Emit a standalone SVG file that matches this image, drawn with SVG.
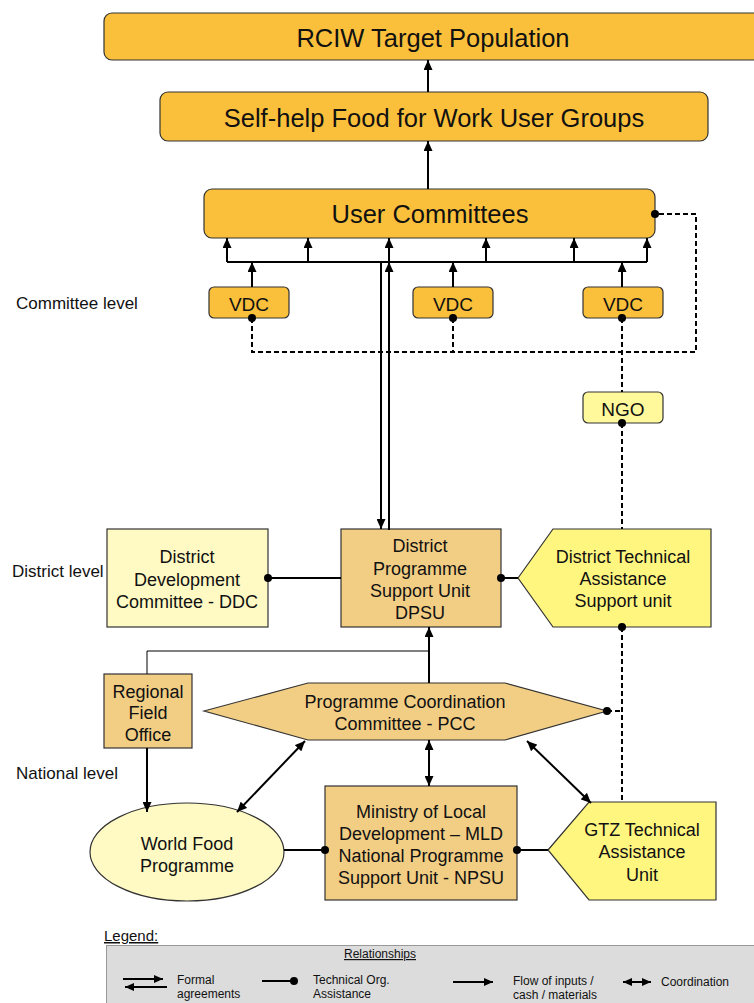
<svg xmlns="http://www.w3.org/2000/svg" width="754" height="1003" viewBox="0 0 754 1003">
<style>
text{font-family:"Liberation Sans",Arial,sans-serif;fill:#111;}
.big{font-size:25.5px;text-anchor:middle;}
.mid{font-size:18px;text-anchor:middle;}
.vdc{font-size:19px;text-anchor:middle;}
.lvl{font-size:17px;}
.lg{font-size:12px;}
.box{stroke:#333;stroke-width:1.2;}
.orange{fill:#FBC03B;}
.tan{fill:#F2CE85;}
.pale{fill:#FFFAC3;}
.yel{fill:#FFF680;}
.ngo{fill:#FFF99C;}
.ln{stroke:#000;stroke-width:2;fill:none;}
.thin{stroke:#000;stroke-width:1;fill:none;}
.dash{stroke:#000;stroke-width:2;fill:none;stroke-dasharray:5,3;}
.arr{marker-end:url(#ah);}
.dbl{marker-end:url(#ah);marker-start:url(#ah);}
</style>
<defs>
<marker id="ah" markerUnits="userSpaceOnUse" markerWidth="10" markerHeight="9" refX="10" refY="4.5" orient="auto-start-reverse"><path d="M0,0 L10,4.5 L0,9 z" fill="#000"/></marker>
<marker id="ahs" markerUnits="userSpaceOnUse" markerWidth="9" markerHeight="8" refX="9" refY="4" orient="auto-start-reverse"><path d="M0,0 L9,4 L0,8 z" fill="#000"/></marker>
</defs>

<g id="rciw"><rect class="box orange" x="104" y="13" width="680" height="47" rx="8"/><text class="big" x="433" y="47">RCIW Target Population</text></g>
<g id="selfhelp"><rect class="box orange" x="160" y="92" width="548" height="49" rx="8"/><text class="big" x="434" y="127">Self-help Food for Work User Groups</text></g>
<g id="uc"><rect class="box orange" x="204" y="189" width="451" height="49" rx="8"/><text class="big" x="430" y="223">User Committees</text></g>
<g id="vdc1"><rect class="box orange" x="209" y="287" width="80" height="31" rx="5"/><text class="vdc" x="249" y="311">VDC</text></g>
<g id="vdc2"><rect class="box orange" x="413" y="287" width="80" height="31" rx="5"/><text class="vdc" x="453" y="311">VDC</text></g>
<g id="vdc3"><rect class="box orange" x="583" y="287" width="80" height="31" rx="5"/><text class="vdc" x="623" y="311">VDC</text></g>
<g id="ngo"><rect class="box ngo" x="583" y="392" width="80" height="31" rx="5"/><text class="vdc" x="623" y="416">NGO</text></g>
<g id="ddc"><rect class="box pale" x="107" y="529" width="161" height="98"/><text class="mid" x="187" y="563">District</text><text class="mid" x="187" y="586">Development</text><text class="mid" x="187" y="608">Committee - DDC</text></g>
<g id="dpsu"><rect class="box tan" x="341" y="529" width="160" height="98"/><text class="mid" x="420" y="552">District</text><text class="mid" x="420" y="575">Programme</text><text class="mid" x="420" y="597">Support Unit</text><text class="mid" x="420" y="619">DPSU</text></g>
<g id="dta"><polygon class="box yel" points="518,578 553,529 711,529 711,627 553,627"/><text class="mid" x="623" y="563">District Technical</text><text class="mid" x="623" y="585">Assistance</text><text class="mid" x="623" y="607">Support unit</text></g>
<g id="rfo"><rect class="box tan" x="104" y="674" width="88" height="74"/><text class="mid" x="148" y="698">Regional</text><text class="mid" x="148" y="719">Field</text><text class="mid" x="148" y="741">Office</text></g>
<g id="pcc"><polygon class="box tan" points="204,711 308,683 505,683 607,711 505,740 308,740"/><text class="mid" x="405" y="708">Programme Coordination</text><text class="mid" x="405" y="730">Committee - PCC</text></g>
<g id="wfp"><ellipse class="box pale" cx="187" cy="852" rx="97" ry="49"/><text class="mid" x="187" y="850">World Food</text><text class="mid" x="187" y="872">Programme</text></g>
<g id="mld"><rect class="box tan" x="325" y="786" width="192" height="114"/><text class="mid" x="421" y="818">Ministry of Local</text><text class="mid" x="421" y="840">Development – MLD</text><text class="mid" x="421" y="862">National Programme</text><text class="mid" x="421" y="884">Support Unit - NPSU</text></g>
<g id="gtz"><polygon class="box yel" points="548,850 589,802 716,802 716,900 589,900"/><text class="mid" x="642" y="836">GTZ Technical</text><text class="mid" x="642" y="858">Assistance</text><text class="mid" x="642" y="881">Unit</text></g>

<g id="levels">
<text class="lvl" x="16" y="309">Committee level</text>
<text class="lvl" x="12" y="577">District level</text>
<text class="lvl" x="16" y="779">National level</text>
</g>

<g id="connectors">
<line class="ln arr" x1="428" y1="92" x2="428" y2="60"/>
<line class="ln arr" x1="428" y1="189" x2="428" y2="141"/>
<line class="ln" x1="227" y1="262" x2="647" y2="262"/>
<line class="ln arr" x1="227" y1="262" x2="227" y2="238"/>
<line class="ln arr" x1="308" y1="262" x2="308" y2="238"/>
<line class="ln arr" x1="389" y1="262" x2="389" y2="238"/>
<line class="ln arr" x1="486" y1="262" x2="486" y2="238"/>
<line class="ln arr" x1="574" y1="262" x2="574" y2="238"/>
<line class="ln arr" x1="647" y1="262" x2="647" y2="238"/>
<line class="ln arr" x1="252" y1="287" x2="252" y2="262"/>
<line class="ln arr" x1="453" y1="287" x2="453" y2="262"/>
<line class="ln arr" x1="622" y1="287" x2="622" y2="262"/>
<line class="ln arr" x1="389" y1="530" x2="389" y2="262"/>
<line class="ln arr" x1="381" y1="261" x2="381" y2="529"/>
<path class="dash" d="M252,318 V352 H696 V214 H655"/>
<path class="dash" d="M453,318 V352"/>
<path class="dash" d="M622,318 V392"/>
<path class="dash" d="M622,423 V529"/>
<path class="dash" d="M622,627 V802"/>
<path class="dash" d="M607,711 H622"/>
<line class="ln" x1="268" y1="578" x2="341" y2="578"/>
<line class="ln" x1="501" y1="578" x2="518" y2="578"/>
<line class="ln arr" x1="429" y1="683" x2="429" y2="627"/>
<path class="thin" d="M147,674 V651 H429"/>
<line class="ln arr" x1="147" y1="748" x2="147" y2="812"/>
<line class="ln dbl" x1="305" y1="741" x2="237" y2="812"/>
<line class="ln dbl" x1="429" y1="740" x2="429" y2="786"/>
<line class="ln dbl" x1="527" y1="741" x2="591" y2="803"/>
<line class="ln" x1="284" y1="850" x2="325" y2="850"/>
<line class="ln" x1="517" y1="850" x2="548" y2="850"/>
<circle cx="252" cy="318" r="4"/>
<circle cx="453" cy="318" r="4"/>
<circle cx="622" cy="318" r="4"/>
<circle cx="655" cy="214" r="4"/>
<circle cx="622" cy="423" r="4"/>
<circle cx="268" cy="578" r="4"/>
<circle cx="501" cy="578" r="4"/>
<circle cx="622" cy="627" r="4"/>
<circle cx="607" cy="711" r="4"/>
<circle cx="325" cy="850" r="4"/>
<circle cx="517" cy="850" r="4"/>
</g>

<g id="legend">
<text x="104" y="941" style="font-size:15px;text-decoration:underline;">Legend:</text>
<rect x="106.5" y="945.5" width="700" height="80" fill="#DCDCDC" stroke="#999" stroke-width="1"/>
<text class="lg" x="380" y="958" text-anchor="middle" style="text-decoration:underline;">Relationships</text>
<line x1="123" y1="979" x2="163" y2="979" stroke="#000" stroke-width="2" marker-end="url(#ahs)"/>
<line x1="167" y1="987" x2="125" y2="987" stroke="#000" stroke-width="2" marker-end="url(#ahs)"/>
<text class="lg" x="177" y="984">Formal</text>
<text class="lg" x="177" y="998">agreements</text>
<line x1="262" y1="981" x2="293" y2="981" stroke="#000" stroke-width="2"/>
<circle cx="294" cy="981" r="4"/>
<text class="lg" x="313" y="984">Technical Org.</text>
<text class="lg" x="313" y="998">Assistance</text>
<line x1="453" y1="982" x2="493" y2="982" stroke="#000" stroke-width="2" marker-end="url(#ahs)"/>
<text class="lg" x="513" y="985">Flow of inputs /</text>
<text class="lg" x="513" y="999">cash / materials</text>
<line x1="623" y1="982" x2="651" y2="982" stroke="#000" stroke-width="2" marker-end="url(#ahs)" marker-start="url(#ahs)"/>
<text class="lg" x="661" y="986">Coordination</text>
</g>
</svg>
